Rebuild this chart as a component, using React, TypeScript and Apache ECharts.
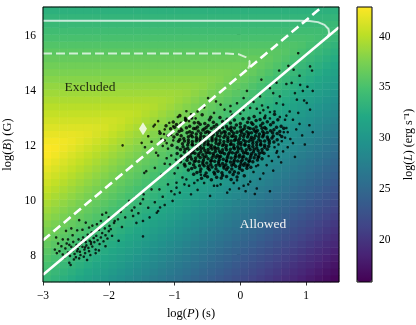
import React, { useEffect, useRef } from 'react';
import * as echarts from 'echarts';

// ---- heatmap grid (cell centres) ----
const logPCenters = [-2.9375, -2.8125, -2.6875, -2.5625, -2.4375, -2.3125, -2.1875, -2.0625, -1.9375, -1.8125, -1.6875, -1.5625, -1.4375, -1.3125, -1.1875, -1.0625, -0.9375, -0.8125, -0.6875, -0.5625, -0.4375, -0.3125, -0.1875, -0.0625, 0.0625, 0.1875, 0.3125, 0.4375, 0.5625, 0.6875, 0.8125, 0.9375, 1.0625, 1.1875, 1.3125, 1.4375];
const logBCenters = [7.125, 7.375, 7.625, 7.875, 8.125, 8.375, 8.625, 8.875, 9.125, 9.375, 9.625, 9.875, 10.125, 10.375, 10.625, 10.875, 11.125, 11.375, 11.625, 11.875, 12.125, 12.375, 12.625, 12.875, 13.125, 13.375, 13.625, 13.875, 14.125, 14.375, 14.625, 14.875, 15.125, 15.375, 15.625, 15.875, 16.125, 16.375, 16.625, 16.875];
// log(L) read from the colour field, one row per logB centre (bottom to top), one value per logP centre
const logLRows = [
  [33.8,33.3,32.8,32.3,31.8,31.3,30.8,30.3,29.8,29.3,28.8,28.3,27.8,27.3,26.8,26.3,25.8,25.3,24.8,24.3,23.8,23.3,22.8,22.3,21.8,21.3,20.8,20.3,19.8,19.3,18.8,18.3,17.8,17.3,16.8,16.3],
  [34.3,33.8,33.3,32.8,32.3,31.8,31.3,30.8,30.3,29.8,29.3,28.8,28.3,27.8,27.3,26.8,26.3,25.8,25.3,24.8,24.3,23.8,23.3,22.8,22.3,21.8,21.3,20.8,20.3,19.8,19.3,18.8,18.3,17.8,17.3,16.8],
  [34.8,34.3,33.8,33.3,32.8,32.3,31.8,31.3,30.8,30.3,29.8,29.3,28.8,28.3,27.8,27.3,26.8,26.3,25.8,25.3,24.8,24.3,23.8,23.3,22.8,22.3,21.8,21.3,20.8,20.3,19.8,19.3,18.8,18.3,17.8,17.3],
  [35.3,34.8,34.3,33.8,33.3,32.8,32.3,31.8,31.3,30.8,30.3,29.8,29.3,28.8,28.3,27.8,27.3,26.8,26.3,25.8,25.3,24.8,24.3,23.8,23.3,22.8,22.3,21.8,21.3,20.8,20.3,19.8,19.3,18.8,18.3,17.8],
  [35.8,35.3,34.8,34.3,33.8,33.3,32.8,32.3,31.8,31.3,30.8,30.3,29.8,29.3,28.8,28.3,27.8,27.3,26.8,26.3,25.8,25.3,24.8,24.3,23.8,23.3,22.8,22.3,21.8,21.3,20.8,20.3,19.8,19.3,18.8,18.3],
  [36.3,35.8,35.3,34.8,34.3,33.8,33.3,32.8,32.3,31.8,31.3,30.8,30.3,29.8,29.3,28.8,28.3,27.8,27.3,26.8,26.3,25.8,25.3,24.8,24.3,23.8,23.3,22.8,22.3,21.8,21.3,20.8,20.3,19.8,19.3,18.8],
  [36.8,36.3,35.8,35.3,34.8,34.3,33.8,33.3,32.8,32.3,31.8,31.3,30.8,30.3,29.8,29.3,28.8,28.3,27.8,27.3,26.8,26.3,25.8,25.3,24.8,24.3,23.8,23.3,22.8,22.3,21.8,21.3,20.8,20.3,19.8,19.3],
  [37.3,36.8,36.3,35.8,35.3,34.8,34.3,33.8,33.3,32.8,32.3,31.8,31.3,30.8,30.3,29.8,29.3,28.8,28.3,27.8,27.3,26.8,26.3,25.8,25.3,24.8,24.3,23.8,23.3,22.8,22.3,21.8,21.3,20.8,20.3,19.8],
  [37.8,37.3,36.8,36.3,35.8,35.3,34.8,34.3,33.8,33.3,32.8,32.3,31.8,31.3,30.8,30.3,29.8,29.3,28.8,28.3,27.8,27.3,26.8,26.3,25.8,25.3,24.8,24.3,23.8,23.3,22.8,22.3,21.8,21.3,20.8,20.3],
  [38.3,37.8,37.3,36.8,36.3,35.8,35.3,34.8,34.3,33.8,33.3,32.8,32.3,31.8,31.3,30.8,30.3,29.8,29.3,28.8,28.3,27.8,27.3,26.8,26.3,25.8,25.3,24.8,24.3,23.8,23.3,22.8,22.3,21.8,21.3,20.8],
  [38.8,38.3,37.8,37.3,36.8,36.3,35.8,35.3,34.8,34.3,33.8,33.3,32.8,32.3,31.8,31.3,30.8,30.3,29.8,29.3,28.8,28.3,27.8,27.3,26.8,26.3,25.8,25.3,24.8,24.3,23.8,23.3,22.8,22.3,21.8,21.3],
  [39.3,38.8,38.3,37.8,37.3,36.8,36.3,35.8,35.3,34.8,34.3,33.8,33.3,32.8,32.3,31.8,31.3,30.8,30.3,29.8,29.3,28.8,28.3,27.8,27.3,26.8,26.3,25.8,25.3,24.8,24.3,23.8,23.3,22.8,22.3,21.8],
  [39.8,39.3,38.8,38.3,37.8,37.3,36.8,36.3,35.8,35.3,34.8,34.3,33.8,33.3,32.8,32.3,31.8,31.3,30.8,30.3,29.8,29.3,28.8,28.3,27.8,27.3,26.8,26.3,25.8,25.3,24.8,24.3,23.8,23.3,22.8,22.3],
  [40.3,39.8,39.3,38.8,38.3,37.8,37.3,36.8,36.3,35.8,35.3,34.8,34.3,33.8,33.3,32.8,32.3,31.8,31.3,30.8,30.3,29.8,29.3,28.8,28.3,27.8,27.3,26.8,26.3,25.8,25.3,24.8,24.3,23.8,23.3,22.8],
  [40.8,40.3,39.8,39.3,38.8,38.3,37.8,37.3,36.8,36.3,35.8,35.3,34.8,34.3,33.8,33.3,32.8,32.3,31.8,31.3,30.8,30.3,29.8,29.3,28.8,28.3,27.8,27.3,26.8,26.3,25.8,25.3,24.8,24.3,23.8,23.3],
  [41.3,40.8,40.3,39.8,39.3,38.8,38.3,37.8,37.3,36.8,36.3,35.8,35.3,34.8,34.3,33.8,33.3,32.8,32.3,31.8,31.3,30.8,30.3,29.8,29.3,28.8,28.3,27.8,27.3,26.8,26.3,25.8,25.3,24.8,24.3,23.8],
  [41.8,41.3,40.8,40.3,39.8,39.3,38.8,38.3,37.8,37.3,36.8,36.3,35.8,35.3,34.8,34.3,33.8,33.3,32.8,32.3,31.8,31.3,30.8,30.3,29.8,29.3,28.8,28.3,27.8,27.3,26.8,26.3,25.8,25.3,24.8,24.3],
  [42.3,41.8,41.3,40.8,40.3,39.8,39.3,38.8,38.3,37.8,37.3,36.8,36.3,35.8,35.3,34.8,34.3,33.8,33.3,32.8,32.3,31.8,31.3,30.8,30.3,29.8,29.3,28.8,28.3,27.8,27.3,26.8,26.3,25.8,25.3,24.8],
  [42.7,42.3,41.8,41.3,40.8,40.3,39.8,39.3,38.8,38.3,37.8,37.3,36.8,36.3,35.8,35.3,34.8,34.3,33.8,33.3,32.8,32.3,31.8,31.3,30.8,30.3,29.8,29.3,28.8,28.3,27.8,27.3,26.8,26.3,25.8,25.3],
  [42.8,42.6,42.2,41.8,41.3,40.8,40.3,39.8,39.3,38.8,38.3,37.8,37.3,36.8,36.3,35.8,35.3,34.8,34.3,33.8,33.3,32.8,32.3,31.8,31.3,30.8,30.3,29.8,29.3,28.8,28.3,27.8,27.3,26.8,26.3,25.8],
  [42.4,42.4,42.3,42.1,41.7,41.3,40.8,40.3,39.8,39.3,38.8,38.3,37.8,37.3,36.8,36.3,35.8,35.3,34.8,34.3,33.8,33.3,32.8,32.3,31.8,31.3,30.8,30.3,29.8,29.3,28.8,28.3,27.8,27.3,26.8,26.3],
  [41.9,41.9,41.9,41.9,41.8,41.6,41.2,40.8,40.3,39.8,39.3,38.8,38.3,37.8,37.3,36.8,36.3,35.8,35.3,34.8,34.3,33.8,33.3,32.8,32.3,31.8,31.3,30.8,30.3,29.8,29.3,28.8,28.3,27.8,27.3,26.8],
  [41.4,41.4,41.4,41.4,41.4,41.4,41.3,41.1,40.7,40.3,39.8,39.3,38.8,38.3,37.8,37.3,36.8,36.3,35.8,35.3,34.8,34.3,33.8,33.3,32.8,32.3,31.8,31.3,30.8,30.3,29.8,29.3,28.8,28.3,27.8,27.3],
  [40.9,40.9,40.9,40.9,40.9,40.9,40.9,40.9,40.8,40.6,40.2,39.8,39.3,38.8,38.3,37.8,37.3,36.8,36.3,35.8,35.3,34.8,34.3,33.8,33.3,32.8,32.3,31.8,31.3,30.8,30.3,29.8,29.3,28.8,28.3,27.8],
  [40.4,40.4,40.4,40.4,40.4,40.4,40.4,40.4,40.4,40.4,40.3,40.1,39.7,39.3,38.8,38.3,37.8,37.3,36.8,36.3,35.8,35.3,34.8,34.3,33.8,33.3,32.8,32.3,31.8,31.3,30.8,30.3,29.8,29.3,28.8,28.3],
  [39.9,39.9,39.9,39.9,39.9,39.9,39.9,39.9,39.9,39.9,39.9,39.9,39.8,39.6,39.2,38.8,38.3,37.8,37.3,36.8,36.3,35.8,35.3,34.8,34.3,33.8,33.3,32.8,32.3,31.8,31.3,30.8,30.3,29.8,29.3,28.8],
  [39.4,39.4,39.4,39.4,39.4,39.4,39.4,39.4,39.4,39.4,39.4,39.4,39.4,39.4,39.3,39.1,38.7,38.3,37.8,37.3,36.8,36.3,35.8,35.3,34.8,34.3,33.8,33.3,32.8,32.3,31.8,31.3,30.8,30.3,29.8,29.3],
  [38.9,38.9,38.9,38.9,38.9,38.9,38.9,38.9,38.9,38.9,38.9,38.9,38.9,38.9,38.9,38.9,38.8,38.6,38.2,37.8,37.3,36.8,36.3,35.8,35.3,34.8,34.3,33.8,33.3,32.8,32.3,31.8,31.3,30.8,30.3,29.8],
  [38.4,38.4,38.4,38.4,38.4,38.4,38.4,38.4,38.4,38.4,38.4,38.4,38.4,38.4,38.4,38.4,38.4,38.4,38.3,38.1,37.7,37.3,36.8,36.3,35.8,35.3,34.8,34.3,33.8,33.3,32.8,32.3,31.8,31.3,30.8,30.3],
  [37.9,37.9,37.9,37.9,37.9,37.9,37.9,37.9,37.9,37.9,37.9,37.9,37.9,37.9,37.9,37.9,37.9,37.9,37.9,37.9,37.8,37.6,37.2,36.8,36.3,35.8,35.3,34.8,34.3,33.8,33.3,32.8,32.3,31.8,31.3,30.8],
  [37.4,37.4,37.4,37.4,37.4,37.4,37.4,37.4,37.4,37.4,37.4,37.4,37.4,37.4,37.4,37.4,37.4,37.4,37.4,37.4,37.4,37.4,37.3,37.1,36.7,36.3,35.8,35.3,34.8,34.3,33.8,33.3,32.8,32.3,31.8,31.3],
  [36.9,36.9,36.9,36.9,36.9,36.9,36.9,36.9,36.9,36.9,36.9,36.9,36.9,36.9,36.9,36.9,36.9,36.9,36.9,36.9,36.9,36.9,36.9,36.9,36.8,36.6,36.2,35.8,35.3,34.8,34.3,33.8,33.3,32.8,32.3,31.8],
  [36.4,36.4,36.4,36.4,36.4,36.4,36.4,36.4,36.4,36.4,36.4,36.4,36.4,36.4,36.4,36.4,36.4,36.4,36.4,36.4,36.4,36.4,36.4,36.4,36.4,36.4,36.3,36.1,35.7,35.3,34.8,34.3,33.8,33.3,32.8,32.3],
  [35.9,35.9,35.9,35.9,35.9,35.9,35.9,35.9,35.9,35.9,35.9,35.9,35.9,35.9,35.9,35.9,35.9,35.9,35.9,35.9,35.9,35.9,35.9,35.9,35.9,35.9,35.9,35.9,35.8,35.6,35.2,34.8,34.3,33.8,33.3,32.8],
  [35.4,35.4,35.4,35.4,35.4,35.4,35.4,35.4,35.4,35.4,35.4,35.4,35.4,35.4,35.4,35.4,35.4,35.4,35.4,35.4,35.4,35.4,35.4,35.4,35.4,35.4,35.4,35.4,35.4,35.4,35.3,35.1,34.7,34.3,33.8,33.3],
  [34.9,34.9,34.9,34.9,34.9,34.9,34.9,34.9,34.9,34.9,34.9,34.9,34.9,34.9,34.9,34.9,34.9,34.9,34.9,34.9,34.9,34.9,34.9,34.9,34.9,34.9,34.9,34.9,34.9,34.9,34.9,34.9,34.8,34.6,34.2,33.8],
  [34.4,34.4,34.4,34.4,34.4,34.4,34.4,34.4,34.4,34.4,34.4,34.4,34.4,34.4,34.4,34.4,34.4,34.4,34.4,34.4,34.4,34.4,34.4,34.4,34.4,34.4,34.4,34.4,34.4,34.4,34.4,34.4,34.4,34.4,34.3,34.1],
  [33.9,33.9,33.9,33.9,33.9,33.9,33.9,33.9,33.9,33.9,33.9,33.9,33.9,33.9,33.9,33.9,33.9,33.9,33.9,33.9,33.9,33.9,33.9,33.9,33.9,33.9,33.9,33.9,33.9,33.9,33.9,33.9,33.9,33.9,33.9,33.9],
  [33.4,33.4,33.4,33.4,33.4,33.4,33.4,33.4,33.4,33.4,33.4,33.4,33.4,33.4,33.4,33.4,33.4,33.4,33.4,33.4,33.4,33.4,33.4,33.4,33.4,33.4,33.4,33.4,33.4,33.4,33.4,33.4,33.4,33.4,33.4,33.4],
  [32.9,32.9,32.9,32.9,32.9,32.9,32.9,32.9,32.9,32.9,32.9,32.9,32.9,32.9,32.9,32.9,32.9,32.9,32.9,32.9,32.9,32.9,32.9,32.9,32.9,32.9,32.9,32.9,32.9,32.9,32.9,32.9,32.9,32.9,32.9,32.9],
];

// ---- pulsars [logP, logB] ----
// dense central population
const pulsarsCore = [
  [-0.92,13.05],[-0.74,12.96],[-0.58,13.08],[-0.31,12.98],[-0.12,13.06],[0.04,12.94],[0.21,13.02],[0.37,12.97],[0.52,13.1],
  [-1.02,12.82],[-0.83,12.88],[-0.64,12.8],[-0.47,12.9],[-0.27,12.84],[-0.09,12.89],[0.11,12.81],[0.24,12.87],[0.41,12.83],[0.57,12.9],
  [-1.13,12.68],[-0.97,12.73],[-0.77,12.66],[-0.61,12.74],[-0.49,12.69],[-0.36,12.72],[-0.21,12.65],[-0.06,12.71],[0.07,12.67],[0.19,12.74],[0.31,12.69],[0.46,12.72],[0.62,12.66],
  [-1.06,12.57],[-0.89,12.52],[-0.71,12.58],[-0.57,12.53],[-0.44,12.59],[-0.32,12.51],[-0.19,12.56],[-0.09,12.6],[0.03,12.53],[0.15,12.58],[0.26,12.51],[0.39,12.57],[0.51,12.54],[0.66,12.59],
  [-1.22,12.41],[-0.96,12.37],[-0.81,12.43],[-0.67,12.38],[-0.53,12.44],[-0.41,12.36],[-0.29,12.42],[-0.17,12.39],[-0.05,12.45],[0.06,12.37],[0.17,12.43],[0.29,12.38],[0.41,12.44],[0.56,12.4],
  [-1.01,12.27],[-0.86,12.22],[-0.73,12.28],[-0.61,12.23],[-0.49,12.29],[-0.37,12.21],[-0.25,12.26],[-0.13,12.3],[-0.01,12.22],[0.11,12.27],[0.21,12.23],[0.34,12.28],[0.48,12.24],[0.63,12.29],
  [-0.94,12.12],[-0.79,12.07],[-0.67,12.13],[-0.54,12.08],[-0.43,12.14],[-0.31,12.06],[-0.19,12.11],[-0.09,12.15],[0.01,12.07],[0.13,12.12],[0.25,12.08],[0.37,12.13],[0.51,12.09],
  [-1.04,11.97],[-0.87,11.92],[-0.73,11.98],[-0.61,11.93],[-0.49,11.99],[-0.39,11.91],[-0.27,11.96],[-0.15,12.0],[-0.04,11.92],[0.07,11.97],[0.19,11.93],[0.31,11.98],[0.43,11.94],
  [-0.91,11.82],[-0.77,11.77],[-0.65,11.83],[-0.54,11.78],[-0.43,11.84],[-0.32,11.76],[-0.21,11.81],[-0.09,11.85],[0.03,11.77],[0.15,11.82],[0.27,11.78],[0.41,11.83],
  [-0.96,11.67],[-0.81,11.62],[-0.69,11.68],[-0.57,11.63],[-0.46,11.69],[-0.35,11.61],[-0.24,11.66],[-0.12,11.7],[-0.01,11.62],[0.11,11.67],[0.23,11.63],[0.36,11.68],
  [-0.87,11.52],[-0.74,11.47],[-0.61,11.53],[-0.49,11.48],[-0.37,11.54],[-0.26,11.46],[-0.14,11.51],[-0.02,11.55],[0.09,11.47],[0.21,11.52],[0.33,11.48],
  [-0.91,11.37],[-0.77,11.32],[-0.63,11.38],[-0.51,11.33],[-0.39,11.39],[-0.27,11.31],[-0.15,11.36],[-0.04,11.4],[0.07,11.32],[0.19,11.37],
  [-0.84,11.22],[-0.69,11.17],[-0.55,11.23],[-0.43,11.18],[-0.31,11.24],[-0.19,11.16],[-0.07,11.21],[0.05,11.25],[0.16,11.17],
  [-0.79,11.07],[-0.61,11.02],[-0.47,11.08],[-0.34,11.03],[-0.21,11.09],[-0.09,11.01],[0.03,11.06],
  [-0.71,10.92],[-0.54,10.87],[-0.39,10.93],[-0.27,10.88],[-0.11,10.91],[0.06,10.86],
  [-0.59,10.77],[-0.44,10.72],[-0.29,10.78],[-0.14,10.73],
  [-0.83,12.93],[-0.45,12.99],[-0.2,12.92],[0.13,12.95],[0.3,12.91],
  [-0.9,12.77],[-0.7,12.79],[-0.54,12.76],[-0.41,12.81],[-0.15,12.78],[0.0,12.76],[0.17,12.79],[0.34,12.77],[0.5,12.8],
  [-1.0,12.63],[-0.82,12.61],[-0.65,12.64],[-0.52,12.62],[-0.4,12.65],[-0.27,12.61],[-0.14,12.63],[0.0,12.64],[0.12,12.61],[0.24,12.64],[0.37,12.62],[0.55,12.63],
  [-0.93,12.48],[-0.77,12.46],[-0.64,12.49],[-0.5,12.47],[-0.38,12.5],[-0.25,12.46],[-0.13,12.48],[0.0,12.49],[0.1,12.46],[0.22,12.49],[0.34,12.47],[0.46,12.5],[0.6,12.47],
  [-1.1,12.33],[-0.9,12.32],[-0.75,12.34],[-0.6,12.31],[-0.47,12.35],[-0.35,12.32],[-0.23,12.34],[-0.11,12.31],[0.0,12.33],[0.12,12.35],[0.23,12.32],[0.35,12.34],[0.5,12.31],
  [-0.92,12.18],[-0.79,12.16],[-0.66,12.19],[-0.55,12.17],[-0.43,12.2],[-0.31,12.16],[-0.19,12.18],[-0.07,12.19],[0.05,12.16],[0.16,12.19],[0.28,12.17],[0.42,12.2],[0.56,12.17],
  [-0.88,12.03],[-0.73,12.01],[-0.61,12.04],[-0.49,12.02],[-0.37,12.05],[-0.25,12.01],[-0.14,12.03],[-0.03,12.04],[0.07,12.01],[0.19,12.04],[0.31,12.02],[0.44,12.05],
  [-0.96,11.88],[-0.8,11.86],[-0.67,11.89],[-0.56,11.87],[-0.45,11.9],[-0.34,11.86],[-0.22,11.88],[-0.1,11.89],[0.01,11.86],[0.13,11.89],[0.25,11.87],[0.37,11.9],
  [-0.85,11.73],[-0.72,11.71],[-0.6,11.74],[-0.49,11.72],[-0.38,11.75],[-0.27,11.71],[-0.16,11.73],[-0.04,11.74],[0.08,11.71],[0.2,11.74],[0.33,11.72],
  [-0.9,11.58],[-0.76,11.56],[-0.64,11.59],[-0.52,11.57],[-0.41,11.6],[-0.3,11.56],[-0.19,11.58],[-0.07,11.59],[0.05,11.56],[0.16,11.59],[0.28,11.57],
  [-0.81,11.43],[-0.68,11.41],[-0.56,11.44],[-0.44,11.42],[-0.32,11.45],[-0.21,11.41],[-0.09,11.43],[0.03,11.44],[0.14,11.41],[0.26,11.44],
  [-0.85,11.28],[-0.71,11.26],[-0.57,11.29],[-0.45,11.27],[-0.33,11.3],[-0.22,11.26],[-0.1,11.28],[0.01,11.29],[0.12,11.26],
  [-0.74,11.13],[-0.6,11.11],[-0.49,11.14],[-0.37,11.12],[-0.25,11.15],[-0.13,11.11],[-0.01,11.13],[0.1,11.14],
  [-0.66,10.98],[-0.52,10.96],[-0.4,10.99],[-0.28,10.97],[-0.16,11.0],[-0.03,10.96],
  [-0.5,10.83],[-0.36,10.81],[-0.21,10.84],[-0.05,10.82],
  [-0.68,12.58],[-0.55,12.56],[-0.35,12.57],[-0.15,12.55],[0.06,12.57],[0.2,12.56],[0.33,12.59],
  [-0.73,12.43],[-0.6,12.41],[-0.47,12.44],[-0.35,12.42],[-0.23,12.45],[-0.1,12.41],[0.02,12.43],[0.13,12.42],[0.24,12.45],[0.36,12.41],[0.49,12.43],
  [-0.79,12.28],[-0.67,12.26],[-0.55,12.29],[-0.43,12.27],[-0.31,12.3],[-0.19,12.26],[-0.07,12.28],[0.05,12.29],[0.17,12.26],[0.28,12.28],[0.41,12.27],
  [-0.85,12.13],[-0.73,12.11],[-0.61,12.14],[-0.49,12.12],[-0.37,12.15],[-0.25,12.11],[-0.14,12.13],[-0.03,12.14],[0.08,12.11],[0.19,12.13],[0.31,12.12],[0.44,12.14],
  [-0.8,11.98],[-0.67,11.96],[-0.55,11.99],[-0.44,11.97],[-0.33,12.0],[-0.21,11.96],[-0.1,11.98],[0.01,11.99],[0.13,11.96],[0.25,11.98],[0.37,11.97],
  [-0.84,11.83],[-0.71,11.81],[-0.6,11.84],[-0.49,11.82],[-0.38,11.85],[-0.27,11.81],[-0.15,11.83],[-0.03,11.84],[0.09,11.81],[0.21,11.83],[0.33,11.82],
  [-0.75,11.68],[-0.63,11.66],[-0.52,11.69],[-0.41,11.67],[-0.3,11.7],[-0.18,11.66],[-0.07,11.68],[0.05,11.69],[0.17,11.66],[0.29,11.68],
  [-0.8,11.53],[-0.68,11.51],[-0.55,11.54],[-0.43,11.52],[-0.32,11.55],[-0.2,11.51],[-0.08,11.53],[0.03,11.54],[0.15,11.51],[0.27,11.53],
  [-0.7,11.38],[-0.57,11.36],[-0.45,11.39],[-0.33,11.37],[-0.21,11.4],[-0.1,11.36],[0.01,11.38],[0.13,11.39],
  [-0.62,11.23],[-0.49,11.21],[-0.37,11.24],[-0.25,11.22],[-0.13,11.25],[-0.01,11.21],[0.1,11.23],
];
// sparser populations: upper right, between the lines, bridge and millisecond pulsars
const pulsarsSparse = [
  [-0.4,13.15],[-0.15,13.2],[0.0,13.12],[0.1,13.45],[0.25,13.3],[0.45,13.18],[0.55,13.5],[-0.3,13.45],[0.33,13.42],
  [0.88,15.32],[0.59,14.69],[0.73,14.86],[0.81,14.72],[1.06,14.84],[1.09,14.69],[0.32,14.36],[0.45,14.05],[0.7,14.2],[0.78,14.24],
  [0.91,14.17],[0.95,13.95],[1.02,14.1],[0.05,13.69],[0.5,13.87],[0.6,13.75],[0.83,13.87],[0.86,13.63],[0.97,13.6],[0.2,13.55],
  [0.42,13.35],[0.65,13.45],[0.75,13.2],[0.88,13.15],[1.01,13.51],[1.06,13.27],[0.3,13.15],[0.15,13.33],[0.94,12.33],[1.05,12.7],
  [0.8,12.9],[0.7,13.05],[0.85,12.55],[0.76,12.2],[0.98,12.0],[0.72,11.9],[0.43,11.58],[0.27,11.25],[0.55,11.7],[0.62,11.35],
  [0.83,11.55],[0.5,11.05],[0.35,10.95],[0.24,11.21],[0.9,12.75],[1.1,12.45],[0.68,12.9],[0.52,13.2],[0.38,13.05],[0.6,12.35],
  [0.8,12.05],[0.65,11.75],[0.58,12.0],[0.63,12.12],[0.56,11.76],[1.1,13.95],[0.9,14.5],[0.55,14.25],[0.1,13.95],[-0.05,13.5],
  [0.3,13.75],[0.25,10.4],[0.12,10.55],[-0.02,10.4],[0.45,10.3],[-0.35,10.5],[0.22,10.2],[0.15,10.65],[-0.1,10.6],[0.05,10.5],
  [0.48,11.4],[0.58,11.55],[0.4,11.25],[0.52,11.9],[0.66,12.45],[0.7,12.6],[0.45,12.95],[0.6,13.0],[-0.55,10.6],[-0.3,10.55],
  [-0.2,10.25],[0.08,10.3],[-0.65,10.7],[-0.05,10.7],[0.3,10.75],[0.2,11.0],[-1.15,11.3],[-1.05,11.6],[-0.98,11.45],[-1.02,12.15],
  [-1.15,12.15],[-0.9,12.58],[-0.78,12.85],[-0.68,12.95],[-0.55,13.35],[-0.15,13.4],[0.05,13.25],[0.35,13.25],[0.68,12.25],[0.72,12.45],
  [-1.79,11.97],[-1.5,12.06],[-1.45,11.9],[-1.4,12.3],[-1.32,12.66],[-1.3,12.72],[-1.23,12.48],[-1.2,12.2],[-1.15,12.55],[-1.08,12.79],
  [-1.02,12.66],[-1.1,11.85],[-1.18,11.95],[-1.35,12.1],[-0.84,12.97],[-0.82,13.21],[-0.75,13.1],[-0.65,13.2],[-0.49,13.69],[-0.37,13.57],
  [-0.24,13.27],[-1.28,11.7],[-1.12,12.05],[-1.05,12.35],[-0.95,13.0],[-1.25,12.85],[-1.16,12.38],
  [-1.99,9.04],[-1.91,9.22],[-1.86,9.28],[-1.8,9.0],[-1.75,9.35],[-1.69,9.95],[-1.65,9.6],[-1.63,9.4],[-1.61,9.71],[-1.6,10.07],
  [-1.55,9.5],[-1.52,9.85],[-1.48,8.66],[-1.48,9.22],[-1.48,10.01],[-1.47,10.19],[-1.43,11.03],[-1.46,10.97],[-1.4,9.7],[-1.35,10.37],
  [-1.3,9.9],[-1.27,9.52],[-1.25,9.58],[-1.23,10.37],[-1.22,9.71],[-1.18,10.1],[-1.15,9.8],[-1.1,10.55],[-1.07,11.28],[-1.05,10.3],
  [-1.03,9.95],[-1.0,10.19],[-0.97,10.43],[-0.97,10.61],[-0.92,10.25],[-0.88,10.8],[-0.82,10.73],[-0.78,10.5],[-0.75,10.19],[-0.7,10.6],
  [-0.65,10.35],[-0.6,10.9],[-0.46,10.13],[-0.4,10.5],[-0.16,10.37],[-1.75,9.75],[-1.82,9.55],[-2.04,9.52],[-1.58,9.15],[-1.38,9.35],
  [-1.2,10.9],[-1.3,11.15],[-1.12,11.5],[-1.25,11.6],[-0.85,10.55],[-1.0,10.95],[-0.95,11.15],
  [-2.82,8.18],[-2.79,8.05],[-2.75,8.12],[-2.72,8.3],[-2.7,8.0],[-2.68,7.88],[-2.66,8.22],[-2.64,8.4],[-2.62,8.08],[-2.6,7.7],
  [-2.59,7.95],[-2.57,8.28],[-2.55,8.15],[-2.54,8.46],[-2.52,8.02],[-2.5,7.9],[-2.49,8.35],[-2.47,8.2],[-2.46,8.55],[-2.44,8.1],
  [-2.43,7.98],[-2.42,8.4],[-2.4,8.28],[-2.39,8.62],[-2.37,8.18],[-2.36,8.05],[-2.35,8.45],[-2.34,8.33],[-2.32,8.72],[-2.31,8.24],
  [-2.3,8.12],[-2.29,8.5],[-2.27,8.38],[-2.26,8.8],[-2.25,8.29],[-2.23,8.6],[-2.22,8.45],[-2.2,8.18],[-2.19,8.68],[-2.17,8.52],
  [-2.15,8.9],[-2.14,8.38],[-2.12,8.62],[-2.1,8.78],[-2.08,8.48],[-2.06,8.95],[-2.05,8.7],[-2.02,8.58],[-2.0,8.85],[-1.97,8.92],
  [-1.95,8.68],[-2.58,7.62],[-2.53,7.82],[-2.45,7.86],[-2.38,7.92],[-2.62,8.55],[-2.55,8.7],[-2.48,8.88],[-2.8,8.62],[-2.65,8.86],
  [-2.35,9.16],[-2.12,9.22],[-2.25,9.05],[-2.45,9.25],[-2.57,8.95],[-2.7,8.55],[-2.77,8.4],[-2.4,8.9],[-2.3,8.98],[-2.18,9.1],
  [-2.0,9.35],[-2.1,9.45],[-1.92,9.15],[-2.28,7.98],[-2.2,8.05],[-2.33,7.8],[-2.15,8.15],[-2.05,8.3],[-1.85,8.5],[-2.48,8.12],
  [-2.41,8.5],[-2.36,8.26],[-2.27,8.45],[-2.45,8.32],[-2.52,8.24],[-2.6,8.35],
];

// ---- death lines and curves [logP, logB] ----
const solidLine = [[-3, 7.26], [1.5, 16.26]];
const dashedLine = [[-3, 8.52], [1.5, 17.52]];
const solidCurve = [[-3, 16.5], [0.9, 16.5], [1.05, 16.49], [1.18, 16.45], [1.28, 16.35], [1.34, 16.2], [1.35, 16.05], [1.33, 15.93], [1.3, 15.86]];
const dashedCurve = [[-3, 15.31], [-0.2, 15.31], [-0.02, 15.28], [0.08, 15.18], [0.14, 15.03], [0.14, 14.9], [0.12, 14.76]];
const diamondPoint = [[-1.48, 12.57]];

const xTicks = [-3, -2, -1, 0, 1];
const yTicks = [8, 10, 12, 14, 16];
const cbTicks = [20, 25, 30, 35, 40];
const cbMin = 15.8;
const cbMax = 42.8;
const viridis = ['#440154', '#482475', '#414487', '#355f8d', '#2a788e', '#21918c', '#22a884', '#44bf70', '#7ad151', '#bddf26', '#fde725'];

const FONT = "'Liberation Serif', 'Times New Roman', serif";
const minus = (v: number) => String(v).replace('-', '\u2212');

export default function App() {
  const ref = useRef<HTMLDivElement>(null);
  useEffect(() => {
    const chart = echarts.init(ref.current!, null, { renderer: 'svg' });
    const heatData: number[][] = [];
    logLRows.forEach((row, j) => row.forEach((v, i) => heatData.push([i, j, v])));

    const plot = { left: 43, top: 7, width: 296, height: 275 };
    const cb = { left: 357, top: 7, width: 15, height: 275 };
    const gridBase = { containLabel: false, outerBoundsMode: 'none' };
    const tickLine = { color: '#000', width: 0.8 };
    const labelBase = { color: '#000', fontFamily: FONT, fontSize: 11.5 };
    const nameStyle = (size: number) => ({
      color: '#000', fontFamily: FONT, fontSize: size,
      rich: { i: { fontStyle: 'italic', fontFamily: FONT, fontSize: size, color: '#000' } },
    });

    chart.setOption({
      animation: false,
      textStyle: { fontFamily: FONT },
      grid: [
        { ...plot, ...gridBase },
        { ...plot, ...gridBase },
        { ...cb, ...gridBase },
      ],
      xAxis: [
        {
          gridIndex: 0, type: 'value', min: -3, max: 1.5,
          axisLine: { show: false }, splitLine: { show: false },
          axisTick: { customValues: xTicks, length: 3.5, lineStyle: tickLine },
          axisLabel: { customValues: xTicks, formatter: minus, margin: 7, ...labelBase },
          name: 'log({i|P}) (s)', nameLocation: 'middle', nameGap: 24, nameTextStyle: nameStyle(12.5),
        },
        { gridIndex: 1, type: 'category', data: logPCenters.map(String), show: false },
        { gridIndex: 2, type: 'value', min: 0, max: 1, show: false },
      ],
      yAxis: [
        {
          gridIndex: 0, type: 'value', min: 7, max: 17,
          axisLine: { show: false }, splitLine: { show: false },
          axisTick: { customValues: yTicks, length: 3.5, lineStyle: tickLine },
          axisLabel: { customValues: yTicks, margin: 7, ...labelBase },
          name: 'log({i|B}) (G)', nameLocation: 'middle', nameGap: 27, nameTextStyle: nameStyle(12.5),
        },
        { gridIndex: 1, type: 'category', data: logBCenters.map(String), show: false },
        {
          gridIndex: 2, type: 'value', min: cbMin, max: cbMax, position: 'right',
          axisLine: { show: false }, splitLine: { show: false },
          axisTick: { customValues: cbTicks, length: 3.5, lineStyle: tickLine },
          axisLabel: { customValues: cbTicks, margin: 7, ...labelBase },
          name: 'log({i|L}) (erg s\u207B\u00B9)', nameLocation: 'middle', nameGap: 30, nameRotate: 90,
          nameTextStyle: nameStyle(12),
        },
      ],
      visualMap: {
        type: 'continuous', seriesIndex: 0, min: cbMin, max: cbMax,
        inRange: { color: viridis },
        left: cb.left, top: cb.top, itemWidth: cb.width, itemHeight: cb.height,
        calculable: false, hoverLink: false, padding: 0, text: null, show: true,
        textStyle: { fontSize: 0 },
      },
      series: [
        {
          type: 'heatmap', xAxisIndex: 1, yAxisIndex: 1, data: heatData,
          progressive: 0, emphasis: { disabled: true }, silent: true,
          itemStyle: { borderWidth: 0 },
        },
        {
          type: 'line', xAxisIndex: 0, yAxisIndex: 0, data: solidCurve, symbol: 'none', silent: true,
          lineStyle: { color: 'rgba(255,255,255,0.72)', width: 2 },
        },
        {
          type: 'line', xAxisIndex: 0, yAxisIndex: 0, data: dashedCurve, symbol: 'none', silent: true,
          lineStyle: { color: 'rgba(255,255,255,0.72)', width: 2, type: [9, 4] },
        },
        {
          type: 'scatter', xAxisIndex: 0, yAxisIndex: 0, data: pulsarsCore, symbol: 'circle', symbolSize: 3.5,
          itemStyle: { color: '#000' }, silent: true,
        },
        {
          type: 'scatter', xAxisIndex: 0, yAxisIndex: 0, data: pulsarsSparse, symbol: 'circle', symbolSize: 2.6,
          itemStyle: { color: '#000' }, silent: true,
        },
        {
          type: 'line', xAxisIndex: 0, yAxisIndex: 0, data: solidLine, symbol: 'none', silent: true, clip: true,
          lineStyle: { color: '#fff', width: 2.6 },
        },
        {
          type: 'line', xAxisIndex: 0, yAxisIndex: 0, data: dashedLine, symbol: 'none', silent: true, clip: true,
          lineStyle: { color: '#fff', width: 2.6, type: [9, 4.5] },
        },
        {
          type: 'scatter', xAxisIndex: 0, yAxisIndex: 0, data: diamondPoint, symbol: 'diamond', symbolSize: [8, 13],
          itemStyle: { color: '#fff' }, silent: true,
        },
      ],
      graphic: [
        { type: 'rect', shape: { x: plot.left, y: plot.top, width: plot.width, height: plot.height }, style: { fill: 'none', stroke: '#000', lineWidth: 1 }, z: 100, silent: true },
        { type: 'rect', shape: { x: cb.left, y: cb.top, width: cb.width, height: cb.height }, style: { fill: 'none', stroke: '#000', lineWidth: 1 }, z: 100, silent: true },
        { type: 'text', x: 90, y: 86, style: { text: 'Excluded', fill: '#1e2a10', fontFamily: FONT, fontSize: 13.5, align: 'center', verticalAlign: 'middle' }, z: 100, silent: true },
        { type: 'text', x: 263, y: 223, style: { text: 'Allowed', fill: '#f2f2f2', fontFamily: FONT, fontSize: 13.5, align: 'center', verticalAlign: 'middle' }, z: 100, silent: true },
      ],
    });
    return () => chart.dispose();
  }, []);
  return <div ref={ref} style={{ position: 'fixed', left: 0, top: 0, width: 416, height: 325 }} />;
}
